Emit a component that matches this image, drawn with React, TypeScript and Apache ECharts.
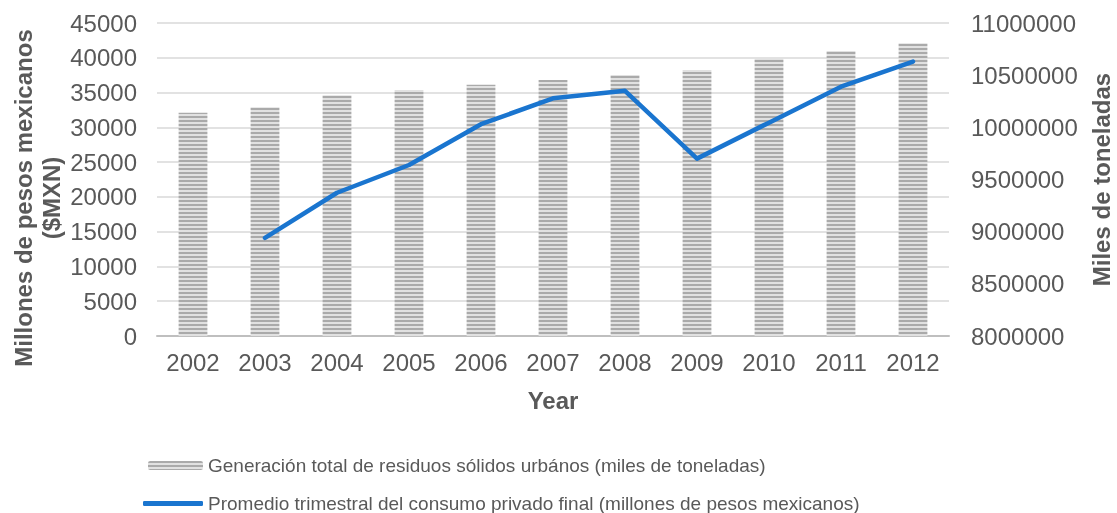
import React, { useEffect, useRef } from "react";
import * as echarts from "echarts";

const years = ["2002", "2003", "2004", "2005", "2006", "2007", "2008", "2009", "2010", "2011", "2012"];
const residuos = [32100, 32880, 34600, 35370, 36130, 36800, 37530, 38240, 39920, 40970, 42080];
const consumo = [null, 8940000, 9373000, 9639000, 10030000, 10278000, 10350000, 9700000, 10045000, 10390000, 10630000];

const barName = "Generación total de residuos sólidos urbános (miles de toneladas)";
const lineName = "Promedio trimestral del consumo privado final (millones de pesos mexicanos)";
const leftTitle = "Millones de pesos mexicanos\n($MXN)";
const rightTitle = "Miles de toneladas";
const xTitle = "Year";

const FONT = "'Liberation Sans', Arial, sans-serif";
const TXT = "#595959";
const BLUE = "#1a75cf";

export default function App() {
  const ref = useRef<HTMLDivElement>(null);
  useEffect(() => {
    const chart = echarts.init(ref.current!, null, { renderer: "svg" });
    const cv = document.createElement("canvas");
    cv.width = 4;
    cv.height = 4;
    const ctx = cv.getContext("2d")!;
    ctx.fillStyle = "#e1e1e1";
    ctx.fillRect(0, 0, 4, 4);
    ctx.fillStyle = "#aaaaaa";
    ctx.fillRect(0, 0, 4, 2);
    const pattern: any = { image: cv, repeat: "repeat" };

    chart.setOption({
      animation: false,
      textStyle: { fontFamily: FONT },
      grid: { left: 157, right: 168, top: 23, bottom: 177, outerBoundsMode: "none", containLabel: false },
      legend: [
        {
          data: [barName],
          left: 148,
          top: 456,
          padding: 0,
          orient: "vertical",
          itemWidth: 55,
          itemHeight: 9,
          textStyle: { fontSize: 19, color: TXT, fontFamily: FONT },
        },
        {
          data: [{ name: lineName, icon: "roundRect" }],
          left: 143,
          top: 494,
          padding: 0,
          orient: "vertical",
          itemWidth: 60,
          itemHeight: 5,
          itemStyle: { color: BLUE },
          textStyle: { fontSize: 19, color: TXT, fontFamily: FONT },
        },
      ],
      graphic: [
        {
          type: "text",
          x: 37,
          y: 198,
          rotation: Math.PI / 2,
          style: {
            text: leftTitle,
            font: `bold 24px ${FONT}`,
            fill: TXT,
            align: "center",
            verticalAlign: "middle",
            lineHeight: 28,
          },
        },
      ],
      xAxis: {
        type: "category",
        data: years,
        axisTick: { show: false },
        axisLine: { lineStyle: { color: "#bfbfbf", width: 2 } },
        axisLabel: { color: TXT, fontSize: 24, margin: 14, fontFamily: FONT },
        name: xTitle,
        nameLocation: "middle",
        nameGap: 52,
        nameTextStyle: { fontWeight: "bold", fontSize: 24, color: TXT, fontFamily: FONT },
      },
      yAxis: [
        {
          type: "value",
          min: 0,
          max: 45000,
          interval: 5000,
          axisLine: { show: false },
          axisTick: { show: false },
          axisLabel: { color: TXT, fontSize: 24, margin: 20, fontFamily: FONT, formatter: (v: number) => String(v) },
          splitLine: { lineStyle: { color: "#d9d9d9", width: 1.5 } },
        },
        {
          type: "value",
          min: 8000000,
          max: 11000000,
          interval: 500000,
          position: "right",
          axisLine: { show: false },
          axisTick: { show: false },
          splitLine: { show: false },
          axisLabel: { color: TXT, fontSize: 24, margin: 22, fontFamily: FONT, formatter: (v: number) => String(v) },
          name: rightTitle,
          nameLocation: "middle",
          nameGap: 140,
          nameRotate: 90,
          nameTextStyle: { fontWeight: "bold", fontSize: 24, color: TXT, fontFamily: FONT },
        },
      ],
      series: [
        {
          type: "bar",
          name: barName,
          data: residuos,
          yAxisIndex: 0,
          barWidth: "40%",
          itemStyle: { color: pattern },
        },
        {
          type: "line",
          name: lineName,
          data: consumo,
          yAxisIndex: 1,
          symbol: "none",
          lineStyle: { color: BLUE, width: 4.5, cap: "round", join: "round" },
          itemStyle: { color: BLUE },
        },
      ],
    });
    return () => chart.dispose();
  }, []);
  return <div ref={ref} style={{ position: "fixed", left: 0, top: 0, width: 1117, height: 513 }} />;
}
